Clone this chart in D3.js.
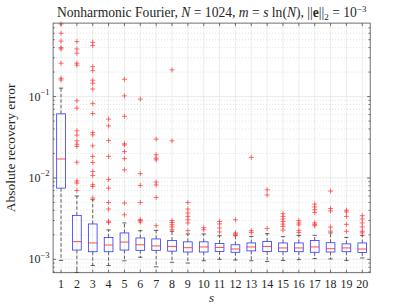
<!DOCTYPE html>
<html>
<head>
<meta charset="utf-8">
<script src="https://cdn.jsdelivr.net/npm/d3@7"></script>
<style>
  body { margin: 0; background: #fff; }
  text { font-family: "Liberation Serif", "DejaVu Serif", serif; fill: #262626; }
</style>
</head>
<body>
<script>
// box plot stats per s
const sVals = [1, 2, 3, 4, 5, 6, 7, 8, 9, 10, 11, 12, 13, 14, 15, 16, 17, 18, 19, 20];
const whiskerLow = [0.00097, 0.00069, 0.00084, 0.00084, 0.00096, 0.00106, 0.00081, 0.00092, 0.0009, 0.00096,
                    0.001, 0.00098, 0.00096, 0.00094, 0.00097, 0.00099, 0.00102, 0.00101, 0.00097, 0.00104];
const q1 = [0.0075, 0.0013, 0.00124, 0.00124, 0.0013, 0.00129, 0.00129, 0.00126, 0.00123, 0.00123,
            0.00125, 0.00122, 0.00127, 0.00125, 0.00124, 0.00124, 0.00122, 0.00123, 0.00124, 0.00121];
const median = [0.0171, 0.00165, 0.00159, 0.0015, 0.00163, 0.00151, 0.00146, 0.00144, 0.00139, 0.00142,
                0.0014, 0.00134, 0.00142, 0.00144, 0.00138, 0.00138, 0.00142, 0.00135, 0.00138, 0.00134];
const q3 = [0.0614, 0.00347, 0.00272, 0.00186, 0.00211, 0.00183, 0.00178, 0.0017, 0.00164, 0.00164,
            0.00157, 0.00151, 0.00159, 0.00166, 0.00159, 0.00159, 0.0017, 0.0016, 0.00155, 0.00159];
const whiskerHigh = [0.127, 0.006, 0.0054, 0.0023, 0.0028, 0.00225, 0.00227, 0.00221, 0.00205, 0.00205,
                     0.00195, 0.00195, 0.00191, 0.00207, 0.0019, 0.00197, 0.00197, 0.00211, 0.00186, 0.00197];
const outliers = [
  [0.78, 0.60, 0.48, 0.40, 0.385, 0.257, 0.168, 0.160],
  [0.473, 0.385, 0.341, 0.257, 0.243, 0.0886, 0.0721, 0.038, 0.0336, 0.0286, 0.026, 0.0244, 0.0156, 0.0092, 0.00865, 0.00703],
  [0.465, 0.423, 0.233, 0.208, 0.159, 0.146, 0.124, 0.082, 0.0618, 0.0361, 0.0339, 0.0248, 0.0184, 0.0155, 0.012, 0.0107, 0.00826, 0.00787, 0.00567],
  [0.0528, 0.0437, 0.0288, 0.0184, 0.0096, 0.0075, 0.005, 0.00415, 0.00294, 0.00284],
  [0.163, 0.102, 0.0572, 0.0263, 0.0254, 0.0211, 0.0173, 0.0126, 0.00492, 0.00353],
  [0.093, 0.0113, 0.0081, 0.005, 0.00307, 0.00299, 0.00287],
  [0.030, 0.0193, 0.0175, 0.0167, 0.0089, 0.0082, 0.00577, 0.00259],
  [0.213, 0.0286, 0.00299, 0.00284, 0.00266, 0.0025, 0.00231],
  [0.005, 0.00415, 0.00371, 0.00337, 0.00307, 0.0028, 0.00225],
  [0.00245, 0.00231],
  [0.00292, 0.00272, 0.00243, 0.00217],
  [0.00307, 0.00211, 0.00205, 0.00199],
  [0.0179, 0.00225, 0.00214],
  [0.00716, 0.00617, 0.0024],
  [0.00364, 0.00337, 0.00313, 0.00292, 0.00271, 0.00254, 0.00229],
  [0.00299, 0.0028, 0.00265, 0.00227, 0.00214],
  [0.00478, 0.0044, 0.00407, 0.00377, 0.0028, 0.00269, 0.00259],
  [0.0069, 0.00422, 0.00393, 0.00249, 0.00222],
  [0.00401, 0.00382, 0.00337, 0.00269, 0.00221],
  [0.00344, 0.00313, 0.0028, 0.0025, 0.00221, 0.00211]
];
const yMajor = [1e-3, 1e-2, 1e-1];
const yMinor = [7e-4, 8e-4, 9e-4, 2e-3, 3e-3, 4e-3, 5e-3, 6e-3, 7e-3, 8e-3, 9e-3,
                2e-2, 3e-2, 4e-2, 5e-2, 6e-2, 7e-2, 8e-2, 9e-2, 0.2, 0.3, 0.4, 0.5, 0.6, 0.7];

const width = 409, height = 307;
const mLeft = 53.1, mRight = 370.2, mTop = 23.1, mBottom = 272.7;

const svg = d3.select("body").append("svg")
  .attr("width", width)
  .attr("height", height);

const x = d3.scaleLinear().domain([0.5, 20.5]).range([mLeft, mRight]);
const y = d3.scaleLog().domain([6.85e-4, 0.8]).range([mBottom, mTop]);

// grid
const grid = svg.append("g");
grid.selectAll("line.vg").data(sVals).join("line")
  .attr("x1", d => x(d)).attr("x2", d => x(d))
  .attr("y1", mTop).attr("y2", mBottom)
  .attr("stroke", "#e9e9e9").attr("stroke-width", 0.8);
grid.selectAll("line.mn").data(yMinor).join("line")
  .attr("x1", mLeft).attr("x2", mRight)
  .attr("y1", d => y(d)).attr("y2", d => y(d))
  .attr("stroke", "#cfcfcf").attr("stroke-width", 0.6)
  .attr("stroke-dasharray", "1,2");
grid.selectAll("line.mj").data(yMajor).join("line")
  .attr("x1", mLeft).attr("x2", mRight)
  .attr("y1", d => y(d)).attr("y2", d => y(d))
  .attr("stroke", "#e6e6e6").attr("stroke-width", 0.8);

// boxes
const bw = x(1.275) - x(1); // half box width in px
const cap = bw / 2;
const boxes = svg.append("g");
sVals.forEach((s, i) => {
  const cx = x(s);
  const g = boxes.append("g");
  g.append("line")
    .attr("x1", cx).attr("x2", cx)
    .attr("y1", y(q3[i])).attr("y2", y(whiskerHigh[i]))
    .attr("stroke", "#000").attr("stroke-width", 0.6).attr("stroke-dasharray", "3.5,2");
  g.append("line")
    .attr("x1", cx).attr("x2", cx)
    .attr("y1", y(q1[i])).attr("y2", Math.min(y(whiskerLow[i]), mBottom))
    .attr("stroke", "#000").attr("stroke-width", 0.6).attr("stroke-dasharray", "3.5,2");
  [whiskerHigh[i], whiskerLow[i]].forEach(v => {
    if (y(v) >= mBottom) return;
    g.append("line")
      .attr("x1", cx - cap).attr("x2", cx + cap)
      .attr("y1", y(v)).attr("y2", y(v))
      .attr("stroke", "#000").attr("stroke-width", 0.6);
  });
  g.append("rect")
    .attr("x", cx - bw).attr("width", 2 * bw)
    .attr("y", y(q3[i])).attr("height", y(q1[i]) - y(q3[i]))
    .attr("fill", "none").attr("stroke", "#3333ff").attr("stroke-width", 0.8);
  g.append("line")
    .attr("x1", cx - bw).attr("x2", cx + bw)
    .attr("y1", y(median[i])).attr("y2", y(median[i]))
    .attr("stroke", "#ff2020").attr("stroke-width", 0.8);
  g.selectAll("path").data(outliers[i]).join("path")
    .attr("d", v => `M${cx - 2.5},${y(v)}h5M${cx},${y(v) - 2.5}v5`)
    .attr("stroke", "#ff3030").attr("stroke-width", 0.7).attr("fill", "none");
});

// axes frame and ticks
const axes = svg.append("g").attr("stroke", "#4d4d4d").attr("stroke-width", 0.8);
axes.append("rect")
  .attr("x", mLeft).attr("y", mTop)
  .attr("width", mRight - mLeft).attr("height", mBottom - mTop)
  .attr("fill", "none");
axes.selectAll("line.xt").data(sVals).join("line")
  .attr("x1", d => x(d)).attr("x2", d => x(d))
  .attr("y1", mBottom).attr("y2", mBottom - 3);
axes.selectAll("line.xtt").data(sVals).join("line")
  .attr("x1", d => x(d)).attr("x2", d => x(d))
  .attr("y1", mTop).attr("y2", mTop + 3);
[mLeft, mRight].forEach(edge => {
  const dir = edge === mLeft ? 1 : -1;
  axes.selectAll(null).data(yMajor).join("line")
    .attr("x1", edge).attr("x2", edge + dir * 3)
    .attr("y1", d => y(d)).attr("y2", d => y(d));
  axes.selectAll(null).data(yMinor).join("line")
    .attr("x1", edge).attr("x2", edge + dir * 1.6)
    .attr("y1", d => y(d)).attr("y2", d => y(d));
});

// tick labels
svg.append("g").selectAll("text").data(sVals).join("text")
  .attr("x", d => x(d)).attr("y", mBottom + 15)
  .attr("text-anchor", "middle")
  .attr("font-size", 12)
  .text(d => d);

const yl = svg.append("g").selectAll("text").data(yMajor).join("text")
  .attr("x", mLeft - 3.5).attr("y", d => y(d) + 4)
  .attr("text-anchor", "end")
  .attr("font-size", 12);
yl.append("tspan").text("10");
yl.append("tspan").attr("dy", -5.5).attr("font-size", 8.5).text(d => "\u2212" + Math.round(-Math.log10(d)));

// axis labels
svg.append("text")
  .attr("x", x(10.5)).attr("y", 302)
  .attr("text-anchor", "middle")
  .attr("font-size", 13).attr("font-style", "italic")
  .text("s");

svg.append("text")
  .attr("transform", `translate(15,${(mTop + mBottom) / 2}) rotate(-90)`)
  .attr("text-anchor", "middle")
  .attr("font-size", 13.5)
  .text("Absolute recovery error");

// title
const title = svg.append("text")
  .attr("x", (mLeft + mRight) / 2).attr("y", 17)
  .attr("text-anchor", "middle")
  .attr("font-size", 13.6);
title.append("tspan").text("Nonharmonic Fourier, ");
title.append("tspan").attr("font-style", "italic").text("N");
title.append("tspan").text(" = 1024, ");
title.append("tspan").attr("font-style", "italic").text("m");
title.append("tspan").text(" = ");
title.append("tspan").attr("font-style", "italic").text("s");
title.append("tspan").text(" ln(");
title.append("tspan").attr("font-style", "italic").text("N");
title.append("tspan").text("), ||");
title.append("tspan").attr("font-weight", "bold").text("e");
title.append("tspan").text("||");
title.append("tspan").attr("dy", 3).attr("font-size", 9).text("2");
title.append("tspan").attr("dy", -3).text(" = 10");
title.append("tspan").attr("dy", -5.5).attr("font-size", 9).text("\u22123");
</script>
</body>
</html>
